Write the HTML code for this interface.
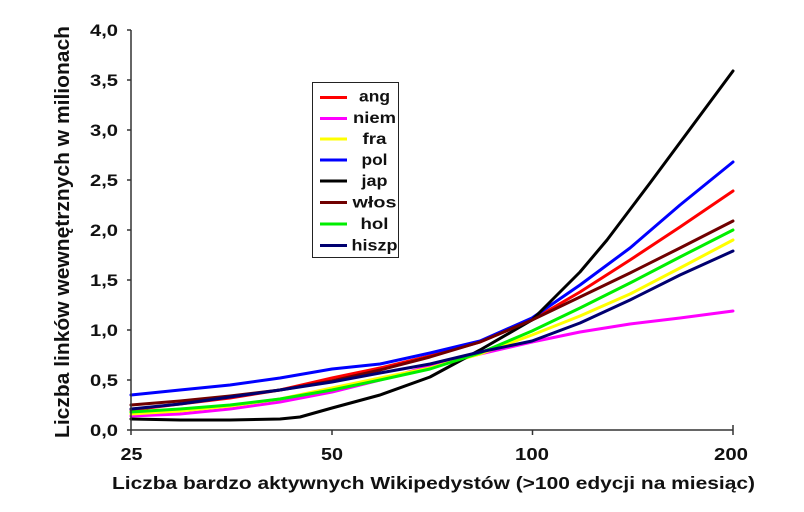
<!DOCTYPE html>
<html>
<head>
<meta charset="utf-8">
<style>
html,body{margin:0;padding:0;background:#fff;}
svg{display:block;}
text{font-family:"Liberation Sans",Arial,sans-serif;font-weight:bold;fill:#111;}
</style>
</head>
<body>
<svg width="804" height="512" viewBox="0 0 804 512" xmlns="http://www.w3.org/2000/svg">
<rect width="804" height="512" fill="#fff"/>

<!-- series -->
<g fill="none" stroke-width="3" stroke-linejoin="round" stroke-linecap="round">
<polyline stroke="#ff0000" points="131,410 180,404 230,398 280,390 332,378 380,368 430,356 480,342 532,320 580,292 630,260 680,227 733,191"/>
<polyline stroke="#ff00ff" points="131,416 180,414 230,409 280,402 332,392 380,380 430,366 480,354 532,342 580,332 630,324 680,318 733,311"/>
<polyline stroke="#ffff00" points="131,414 180,411 230,406 280,399 332,388 380,378 430,368 480,354 532,335 580,316 630,294 680,268 733,240"/>
<polyline stroke="#0000ff" points="131,395 180,390 230,385 280,378 332,369 380,364 430,353 480,341 532,318 580,285 630,248 680,205 733,162"/>
<polyline stroke="#000000" points="131,419 180,420 230,420 280,419 300,417 332,408 380,395 430,377 480,350 532,320 580,272 607,240 650,183 733,71"/>
<polyline stroke="#700000" points="131,405 180,401 230,396 280,390 332,381 380,370 430,357 480,342 532,320 580,297 630,273 680,248 733,221"/>
<polyline stroke="#00ee00" points="131,412 180,409 230,405 280,399 332,390 380,380 430,369 480,353 532,331 580,308 630,283 680,257 733,230"/>
<polyline stroke="#000070" points="131,409 180,404 230,397 280,390 332,382 380,373 430,364 480,352 532,341 580,323 630,300 680,275 733,251"/>
</g>

<!-- axes -->
<g stroke="#333" stroke-width="1.5" fill="none">
<line x1="131" y1="30" x2="131" y2="430"/>
<line x1="131" y1="430" x2="733" y2="430"/>
<line x1="127" y1="30" x2="131" y2="30"/>
<line x1="127" y1="80" x2="131" y2="80"/>
<line x1="127" y1="130" x2="131" y2="130"/>
<line x1="127" y1="180" x2="131" y2="180"/>
<line x1="127" y1="230" x2="131" y2="230"/>
<line x1="127" y1="280" x2="131" y2="280"/>
<line x1="127" y1="330" x2="131" y2="330"/>
<line x1="127" y1="380" x2="131" y2="380"/>
<line x1="127" y1="430" x2="131" y2="430"/>
<line x1="131" y1="430" x2="131" y2="435"/>
<line x1="332" y1="430" x2="332" y2="435"/>
<line x1="532.5" y1="430" x2="532.5" y2="435"/>
<line x1="733" y1="425" x2="733" y2="435"/>
</g>

<!-- y tick labels -->
<g font-size="17" text-anchor="end">
<text x="118" y="36" textLength="28" lengthAdjust="spacingAndGlyphs">4,0</text>
<text x="118" y="86" textLength="28" lengthAdjust="spacingAndGlyphs">3,5</text>
<text x="118" y="136" textLength="28" lengthAdjust="spacingAndGlyphs">3,0</text>
<text x="118" y="186" textLength="28" lengthAdjust="spacingAndGlyphs">2,5</text>
<text x="118" y="236" textLength="28" lengthAdjust="spacingAndGlyphs">2,0</text>
<text x="118" y="286" textLength="28" lengthAdjust="spacingAndGlyphs">1,5</text>
<text x="118" y="336" textLength="28" lengthAdjust="spacingAndGlyphs">1,0</text>
<text x="118" y="386" textLength="28" lengthAdjust="spacingAndGlyphs">0,5</text>
<text x="118" y="436" textLength="28" lengthAdjust="spacingAndGlyphs">0,0</text>
</g>

<!-- x tick labels -->
<g font-size="17.5" text-anchor="middle">
<text x="131.5" y="460" textLength="22" lengthAdjust="spacingAndGlyphs">25</text>
<text x="332" y="460" textLength="22" lengthAdjust="spacingAndGlyphs">50</text>
<text x="532" y="460" textLength="34" lengthAdjust="spacingAndGlyphs">100</text>
<text x="731" y="460" textLength="34" lengthAdjust="spacingAndGlyphs">200</text>
</g>

<!-- axis titles -->
<text x="433.5" y="489" font-size="17.5" text-anchor="middle" textLength="643" lengthAdjust="spacingAndGlyphs">Liczba bardzo aktywnych Wikipedystów (&gt;100 edycji na miesiąc)</text>
<text transform="translate(69,232) scale(1.15,1) rotate(-90)" x="0" y="0" font-size="18" text-anchor="middle" textLength="412" lengthAdjust="spacingAndGlyphs">Liczba linków wewnętrznych w milionach</text>

<!-- legend -->
<rect x="312.5" y="82.5" width="86" height="175" fill="#fff" stroke="#222" stroke-width="1"/>
<g stroke-width="3" fill="none">
<line x1="320" y1="97.5" x2="347" y2="97.5" stroke="#ff0000"/>
<line x1="320" y1="118.5" x2="347" y2="118.5" stroke="#ff00ff"/>
<line x1="320" y1="139" x2="347" y2="139" stroke="#ffff00"/>
<line x1="320" y1="160" x2="347" y2="160" stroke="#0000ff"/>
<line x1="320" y1="181" x2="347" y2="181" stroke="#000000"/>
<line x1="320" y1="202.5" x2="347" y2="202.5" stroke="#700000"/>
<line x1="320" y1="224" x2="347" y2="224" stroke="#00ee00"/>
<line x1="320" y1="245.5" x2="347" y2="245.5" stroke="#000070"/>
</g>
<g font-size="16" text-anchor="middle">
<text x="374.5" y="101.5" textLength="31" lengthAdjust="spacingAndGlyphs">ang</text>
<text x="374.5" y="123" textLength="43" lengthAdjust="spacingAndGlyphs">niem</text>
<text x="374.5" y="144" textLength="24" lengthAdjust="spacingAndGlyphs">fra</text>
<text x="374.5" y="165" textLength="26" lengthAdjust="spacingAndGlyphs">pol</text>
<text x="374.5" y="186" textLength="26" lengthAdjust="spacingAndGlyphs">jap</text>
<text x="374.5" y="207.5" textLength="44" lengthAdjust="spacingAndGlyphs">włos</text>
<text x="374.5" y="229" textLength="28" lengthAdjust="spacingAndGlyphs">hol</text>
<text x="374.5" y="250.5" textLength="46" lengthAdjust="spacingAndGlyphs">hiszp</text>
</g>
</svg>
</body>
</html>
